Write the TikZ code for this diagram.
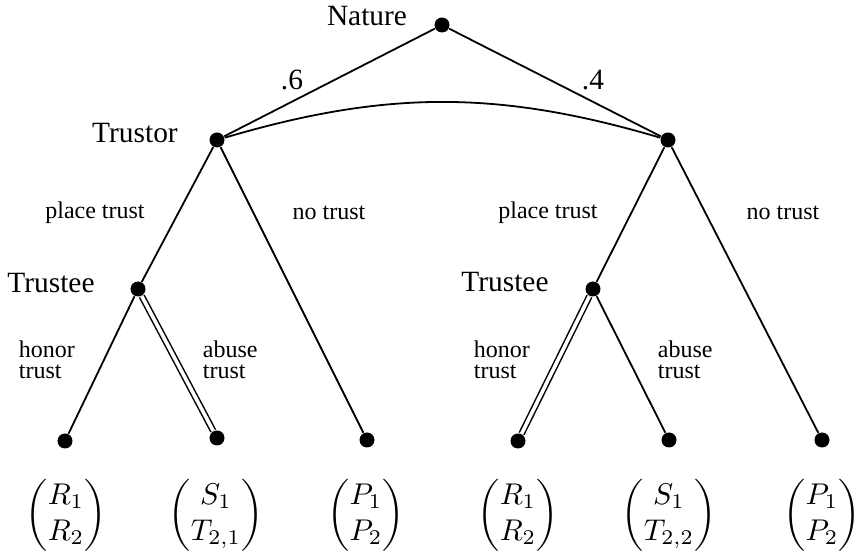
\documentclass[tikz,border=0pt]{standalone}
\usepackage{amssymb, mathtools, amsmath}
\usepackage{fontspec}
\setmainfont{Liberation Serif}
\usepackage{tikz}

\tikzset{
  dec/.style={circle, fill=black, inner sep=0pt, minimum size=5pt},
  edge/.style={line width=0.6pt},
  choice/.style={double, line width=0.5pt, double distance=1.2pt},
  big/.style={inner sep=0.75pt, font=\fontsize{9.8}{11}\selectfont},
  small/.style={inner sep=0.75pt, align=left, font=\fontsize{8}{7}\selectfont},
  pay/.style={inner sep=0.75pt, font=\fontsize{10}{12}\selectfont},
}

\begin{document}
\begin{tikzpicture}[x=0.3333pt,y=0.3333pt,yscale=-1,xscale=1]
\useasboundingbox (0,0) rectangle (856,551);

%Shape: Circle (decision points)
\node [dec] (nature) at (442,25) {};
\node [dec] (trustorL) at (217,140) {};
\node [dec] (trustorR) at (668,140) {};
\node [dec] (trusteeL) at (138,289) {};
\node [dec] (trusteeR) at (593,289) {};
%Shape: Circle (end points)
\node [dec] (leafA) at (65,441) {};
\node [dec] (leafB) at (217,438) {};
\node [dec] (leafC) at (367,440) {};
\node [dec] (leafD) at (518,441) {};
\node [dec] (leafE) at (669,440) {};
\node [dec] (leafF) at (822,440) {};

%Straight Lines
\draw [edge] (nature) -- (trustorL);
\draw [edge] (nature) -- (trustorR);
%Curve Lines (information set)
\draw [edge] (trustorL) to [out=-18,in=-162] (trustorR);
%Straight Lines
\draw [edge] (trustorL) -- (trusteeL);
\draw [edge] (trustorL) -- (leafC);
\draw [edge] (trustorR) -- (trusteeR);
\draw [edge] (trustorR) -- (leafF);
\draw [edge] (trusteeL) -- (leafA);
\draw [choice] (trusteeL) -- (leafB);
\draw [choice] (trusteeR) -- (leafD);
\draw [edge] (trusteeR) -- (leafE);

% Text Node
\node [big] (lnature) at (367,16) {Nature};
\node [big] (lprobL) at (292,80) {.6};
\node [big] (lprobR) at (593,80) {.4};
\node [big] (ltrustor) at (135,133) {Trustor};
\node [big] (ltrusteeL) at (51,283) {Trustee};
\node [big] (ltrusteeR) at (505,282) {Trustee};
% Text Node
\node [small] (lplaceL) at (95,213) {place trust};
\node [small] (lnoL) at (329,213) {no trust};
\node [small] (lplaceR) at (548,213) {place trust};
\node [small] (lnoR) at (783,213) {no trust};
\node [small, anchor=west] (lhonorL) at (16,360) {honor\\trust};
\node [small, anchor=west] (labuseL) at (200,360) {abuse\\trust};
\node [small, anchor=west] (lhonorR) at (471,360) {honor\\trust};
\node [small, anchor=west] (labuseR) at (655,360) {abuse\\trust};
% Text Node (payoffs)
\node [pay] (payA) at (66,515) {$\begin{pmatrix} R_1\\ R_2 \end{pmatrix}$};
\node [pay] (payB) at (216,515) {$\begin{pmatrix} S_1\\ T_{2,1} \end{pmatrix}$};
\node [pay] (payC) at (366,515) {$\begin{pmatrix} P_1\\ P_2 \end{pmatrix}$};
\node [pay] (payD) at (518,515) {$\begin{pmatrix} R_1\\ R_2 \end{pmatrix}$};
\node [pay] (payE) at (669,515) {$\begin{pmatrix} S_1\\ T_{2,2} \end{pmatrix}$};
\node [pay] (payF) at (822,515) {$\begin{pmatrix} P_1\\ P_2 \end{pmatrix}$};

\end{tikzpicture}
\end{document}
